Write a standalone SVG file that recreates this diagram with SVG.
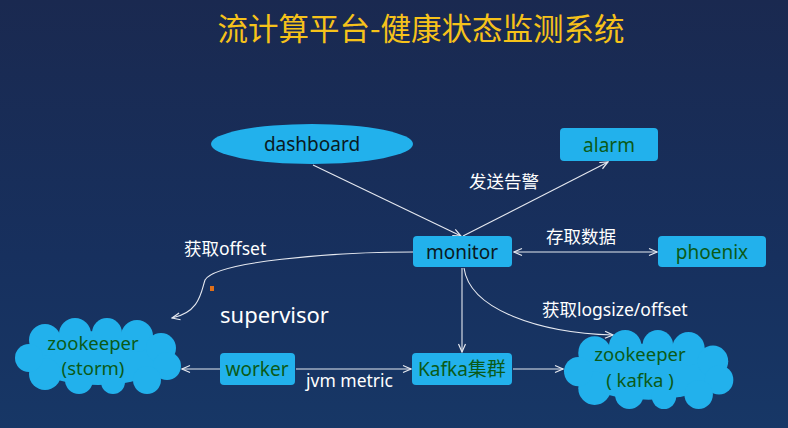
<svg xmlns="http://www.w3.org/2000/svg" width="788" height="428" viewBox="0 0 788 428">
<defs>
<linearGradient id="bg" x1="0" y1="0" x2="0" y2="1">
<stop offset="0" stop-color="#1a2950"/>
<stop offset="0.6" stop-color="#17305e"/>
<stop offset="1" stop-color="#173766"/>
</linearGradient>
<marker id="arr" viewBox="0 0 10 10" refX="9" refY="5" markerWidth="10" markerHeight="10" markerUnits="userSpaceOnUse" orient="auto-start-reverse">
<path d="M1,1.5 L9,5 L1,8.5" fill="none" stroke="#e6e9f0" stroke-width="1.2"/>
</marker>
<g id="cloud" fill="#22b1ec">
<ellipse cx="83" cy="40" rx="70" ry="27"/>
<circle cx="30" cy="22" r="16"/><circle cx="60" cy="16" r="16"/><circle cx="92" cy="15" r="15"/>
<circle cx="122" cy="18" r="16"/><circle cx="146" cy="30" r="15"/><circle cx="152" cy="48" r="14"/>
<circle cx="132" cy="62" r="14"/><circle cx="98" cy="64" r="12"/><circle cx="64" cy="62" r="14"/>
<circle cx="30" cy="56" r="16"/><circle cx="14" cy="40" r="14"/>
</g>
</defs>
<style>
.box{fill:#22b1ec}
.t{font-family:"Noto Sans","Noto Sans CJK SC",sans-serif;font-size:19px;text-anchor:middle}
.dk{fill:#0a1a22}
.gr{fill:#0b5a17}
.lb{font-family:"Noto Sans","Noto Sans CJK SC",sans-serif;font-size:17.5px;fill:#ffffff}
.ln{fill:none;stroke:#e6e9f0;stroke-width:1.1}
</style>
<rect width="788" height="428" fill="url(#bg)"/>
<text x="421" y="40" font-family="'Noto Sans CJK SC',sans-serif" font-size="30.5" fill="#f6c21a" text-anchor="middle">流计算平台-健康状态监测系统</text>

<g id="connectors">
<path class="ln" d="M313,165 L461,236" marker-end="url(#arr)"/>
<path class="ln" d="M463,236 L608,162" marker-end="url(#arr)"/>
<path class="ln" d="M514,252 L657,252" marker-start="url(#arr)" marker-end="url(#arr)"/>
<path class="ln" d="M413,252 C330,252 215,262 205,280 C201,292 200,312 172,318" marker-end="url(#arr)"/>
<path class="ln" d="M462,268 L462,352" marker-end="url(#arr)"/>
<path class="ln" d="M464,268 C470,310 540,333 613,335" marker-end="url(#arr)"/>
<path class="ln" d="M220,369 L182,369" marker-end="url(#arr)"/>
<path class="ln" d="M296,369 L411,369" marker-end="url(#arr)"/>
<path class="ln" d="M513,369 L563,369" marker-end="url(#arr)"/>
</g>

<g id="dashboard"><ellipse cx="312" cy="144" rx="101" ry="20" fill="#22b1ec"/><text class="t dk" x="312" y="151">dashboard</text></g>
<g id="alarm"><rect class="box" x="560" y="128" width="98" height="33" rx="4"/><text class="t gr" x="609" y="152">alarm</text></g>
<g id="monitor"><rect class="box" x="413" y="236" width="99" height="31" rx="4"/><text class="t dk" x="462" y="259">monitor</text></g>
<g id="phoenix"><rect class="box" x="658" y="236" width="108" height="31" rx="4"/><text class="t gr" x="712" y="259">phoenix</text></g>
<g id="worker"><rect class="box" x="220" y="353" width="75" height="32" rx="4"/><text class="t gr" x="257" y="376">worker</text></g>
<g id="kafka"><rect class="box" x="412" y="353" width="100" height="32" rx="4"/><text class="t gr" x="462" y="376">Kafka集群</text></g>
<g id="zk-storm"><use href="#cloud" transform="translate(15,318)"/><text class="t gr" x="93" y="350" style="font-size:18.5px">zookeeper</text><text class="t gr" x="93" y="375" style="font-size:18.5px">(storm)</text></g>
<g id="zk-kafka"><use href="#cloud" transform="translate(564,330) scale(1.02,1.04)"/><text class="t gr" x="640" y="361" style="font-size:18.5px">zookeeper</text><text class="t gr" x="640" y="387" style="font-size:18.5px">( kafka )</text></g>

<g id="labels">
<text class="lb" x="469" y="188">发送告警</text>
<text class="lb" x="546" y="243">存取数据</text>
<text class="lb" x="184" y="255">获取offset</text>
<text class="lb" x="220" y="323" style="font-size:22px">supervisor</text>
<text class="lb" x="306" y="387">jvm metric</text>
<text class="lb" x="542" y="316">获取logsize/offset</text>
</g>
<rect x="210" y="286" width="4" height="5" fill="#e0701a"/>
</svg>
